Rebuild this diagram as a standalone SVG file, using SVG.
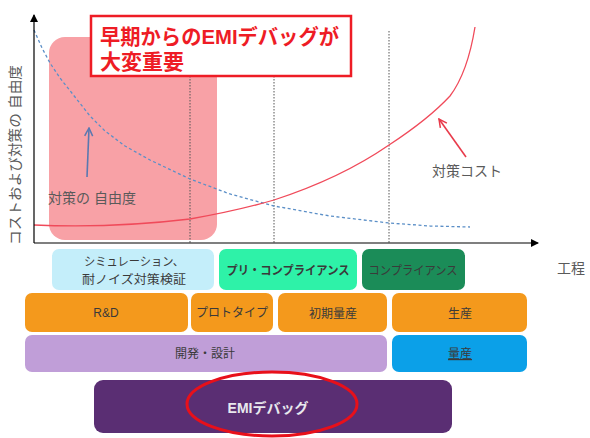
<svg xmlns="http://www.w3.org/2000/svg" width="590" height="438" viewBox="0 0 590 438">
<defs>
<style>
text{font-family:"Liberation Sans","Noto Sans CJK JP",sans-serif;}
.lbl{font-size:14px;fill:#5a5a5a;}
.box{stroke:none;}
.bt{font-size:12px;fill:#3a3a3a;text-anchor:middle;}
.vline{stroke:#555;stroke-width:1;stroke-dasharray:1.5 1.5;fill:none;}
</style>
<marker id="ak" markerWidth="8" markerHeight="8" refX="7" refY="4" orient="auto" markerUnits="userSpaceOnUse">
<path d="M0,0 L8,4 L0,8 z" fill="#000"/>
</marker>
<marker id="ab" markerWidth="10" markerHeight="10" refX="9" refY="5" orient="auto" markerUnits="userSpaceOnUse">
<path d="M1,1 L9,5 L1,9" fill="none" stroke="#5a78b0" stroke-width="1.5"/>
</marker>
<marker id="ar" markerWidth="10" markerHeight="10" refX="9" refY="5" orient="auto" markerUnits="userSpaceOnUse">
<path d="M1,1 L9,5 L1,9" fill="none" stroke="#e83b4b" stroke-width="1.5"/>
</marker>
</defs>
<rect width="590" height="438" fill="#fff"/>

<g id="highlight">
<rect x="49" y="37" width="168" height="203" rx="16" fill="#f8a1a6"/>
</g>

<g id="vlines">
<line class="vline" x1="190" y1="31" x2="190" y2="243"/>
<line class="vline" x1="274" y1="31" x2="274" y2="243"/>
<line class="vline" x1="389" y1="31" x2="389" y2="243"/>
</g>

<g id="curves">
<polyline fill="none" stroke="#5b8fc7" stroke-width="1.3" stroke-dasharray="3 2.5" points="34,30 42,48 50,63 60,78 75,97 90,116 105,131 125,146 150,160 190,179 230,194 274,206 330,216 389,223 430,226 470,227"/>
<path fill="none" stroke="#f04a5a" stroke-width="1.3" d="M34,225 C80,227 140,225 190,219 C230,212 250,207 274,200 C320,185 360,165 389,145 C415,128 437,110 450,96 C462,80 470,58 475,27"/>
</g>

<g id="axes">
<line x1="34" y1="243" x2="34" y2="15" stroke="#000" stroke-width="1.2" marker-end="url(#ak)"/>
<line x1="34" y1="243" x2="538" y2="243" stroke="#000" stroke-width="1.2" marker-end="url(#ak)"/>
<text class="lbl" transform="translate(15,155) rotate(-90)" text-anchor="middle" dominant-baseline="central" font-size="14" textLength="180" lengthAdjust="spacingAndGlyphs">コストおよび対策の 自由度</text>
<text class="lbl" x="557" y="273" font-size="15">工程</text>
</g>

<g id="title">
<rect x="91" y="16" width="260" height="60" fill="#fff" stroke="#ee1c25" stroke-width="2.5"/>
<text x="100" y="44" font-size="21" font-weight="bold" fill="#ee1c25" textLength="239" lengthAdjust="spacingAndGlyphs">早期からのEMIデバッグが</text>
<text x="100" y="69" font-size="21" font-weight="bold" fill="#ee1c25">大変重要</text>
</g>

<g id="freedom-label">
<text class="lbl" x="48" y="203">対策の 自由度</text>
</g>
<g id="cost-label">
<text class="lbl" x="432" y="176">対策コスト</text>
</g>

<g id="connectors">
<line x1="87" y1="177" x2="89" y2="128" stroke="#5a78b0" stroke-width="1.6" marker-end="url(#ab)"/>
<line x1="466" y1="157" x2="439" y2="119" stroke="#e83b4b" stroke-width="1.6" marker-end="url(#ar)"/>
</g>

<g id="sim">
<rect class="box" x="52" y="249" width="162" height="41" rx="7" fill="#c4eefa"/>
<text class="bt" x="134" y="266" textLength="100" lengthAdjust="spacingAndGlyphs">シミュレーション、</text>
<text class="bt" x="134" y="284" textLength="104" lengthAdjust="spacingAndGlyphs">耐ノイズ対策検証</text>
</g>
<g id="precompliance">
<rect class="box" x="219" y="249" width="138" height="41" rx="7" fill="#2ef2a8"/>
<text class="bt" x="288" y="275" font-weight="bold" fill="#1a2a22" textLength="123" lengthAdjust="spacingAndGlyphs">プリ・コンプライアンス</text>
</g>
<g id="compliance">
<rect class="box" x="362" y="249" width="103" height="41" rx="7" fill="#1b8c58"/>
<text class="bt" x="413" y="275" font-size="11" fill="#d8eee2" textLength="89" lengthAdjust="spacingAndGlyphs">コンプライアンス</text>
</g>

<g id="rd">
<rect class="box" x="25" y="293" width="163" height="39" rx="7" fill="#f4991c"/>
<text class="bt" x="106" y="317" font-size="13">R&amp;D</text>
</g>
<g id="proto">
<rect class="box" x="191" y="293" width="82" height="39" rx="7" fill="#f4991c"/>
<text class="bt" x="232" y="317">プロトタイプ</text>
</g>
<g id="initial">
<rect class="box" x="278" y="293" width="109" height="39" rx="7" fill="#f4991c"/>
<text class="bt" x="333" y="318" font-size="14">初期量産</text>
</g>
<g id="production">
<rect class="box" x="392" y="293" width="135" height="39" rx="7" fill="#f4991c"/>
<text class="bt" x="460" y="318" font-size="14">生産</text>
</g>

<g id="devdesign">
<rect class="box" x="25" y="335" width="362" height="37" rx="7" fill="#c09ed8"/>
<text class="bt" x="205" y="358" font-size="13">開発・設計</text>
</g>
<g id="massprod">
<rect class="box" x="392" y="335" width="135" height="37" rx="7" fill="#0ba0e8"/>
<text class="bt" x="460" y="358" font-size="13" fill="#f0f8ff" text-decoration="underline">量産</text>
</g>

<g id="emidebug">
<rect class="box" x="94" y="380" width="358" height="53" rx="9" fill="#5a2e73"/>
<text x="268" y="413" text-anchor="middle" font-size="14" font-weight="bold" fill="#e8e8ee">EMIデバッグ</text>
</g>

<g id="emphasis">
<ellipse cx="272" cy="404" rx="85" ry="32" fill="none" stroke="#e8101a" stroke-width="3"/>
</g>
</svg>
